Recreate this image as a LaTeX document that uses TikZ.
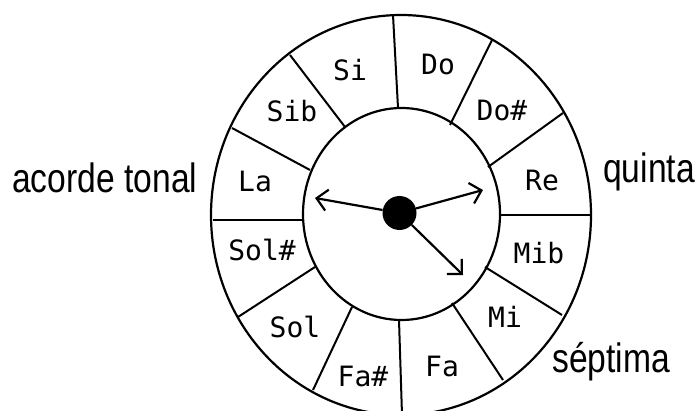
\documentclass[tikz,border=0pt]{standalone}
\usepackage{fontspec}
\setmainfont{Liberation Sans}
\newfontfamily\notefont{DejaVu Sans Mono}
\newfontfamily\sidefont[FakeStretch=0.82]{Liberation Sans}
\usetikzlibrary{arrows.meta}
\begin{document}
\begin{tikzpicture}[x=1pt,y=-1pt,
  ring/.style={line width=2.2pt},
  divider/.style={line width=2pt},
  note/.style={font=\notefont\fontsize{28}{28}\selectfont, inner sep=0pt, text height=20pt, text depth=0pt},
  side/.style={font=\sidefont\fontsize{41}{41}\selectfont, inner sep=0pt, anchor=base west},
  pointer/.style={line width=2.2pt, -{Straight Barb[angle=90:15pt, line width=2.2pt]}}]
\path[use as bounding box] (0,0) rectangle (700,411);
\clip (0,0) rectangle (700,411);
\fill[white] (0,0) rectangle (700,411);
% rings
\draw[ring] (401,215) ellipse [x radius=190pt, y radius=200pt];
\draw[ring] (401.5,214) ellipse [x radius=98.5pt, y radius=106pt];
% dividers
\draw[divider] (393,15) -- (398,108);
\draw[divider] (492,40) -- (450,125);
\draw[divider] (563,113) -- (488,167);
\draw[divider] (500,215) -- (591,215);
\draw[divider] (485,267) -- (562,315);
\draw[divider] (452,303) -- (503,380);
\draw[divider] (399,320) -- (402,415);
\draw[divider] (352,307) -- (313,390);
\draw[divider] (315,267) -- (238,317);
\draw[divider] (213,220) -- (302,220);
\draw[divider] (310,170) -- (232,128);
\draw[divider] (345,127) -- (290,55);
% note labels
\node[note] (si)    at (350,71)  {Si};
\node[note] (do)    at (438,65)  {Do};
\node[note] (dos)   at (502,111) {Do\#};
\node[note] (re)    at (542,181) {Re};
\node[note] (mib)   at (539,253) {Mib};
\node[note] (mi)    at (505,317) {Mi};
\node[note] (fa)    at (442,366) {Fa};
\node[note] (fas)   at (363,376) {Fa\#};
\node[note] (sol)   at (295,327) {Sol};
\node[note] (sols)  at (262,251) {Sol\#};
\node[note] (la)    at (255,182) {La};
\node[note] (sib)   at (292,112) {Sib};
% side labels
\node[side] (tonal)   at (12,193)  {acorde tonal};
\node[side] (quinta)  at (603,183) {quinta};
\node[side] (septima) at (552,372) {séptima};
% hub and pointers
\coordinate (tonic)   at (315,198);
\coordinate (fifth)   at (483,190);
\coordinate (seventh) at (463,275);
\node[circle, fill=black, inner sep=0pt, minimum size=34pt] (hub) at (399.5,213) {};
\draw[pointer] (hub) -- (tonic);
\draw[pointer] (hub) -- (fifth);
\draw[pointer] (hub) -- (seventh);
\end{tikzpicture}
\end{document}
